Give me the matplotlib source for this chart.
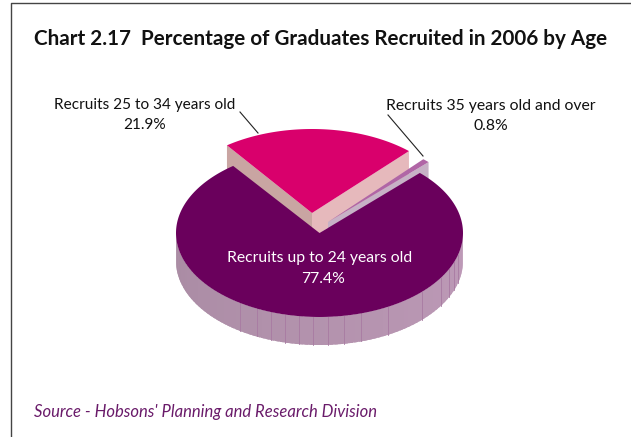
import numpy as np
import matplotlib
matplotlib.use("Agg")
import matplotlib.pyplot as plt
from matplotlib.collections import PolyCollection
from matplotlib.patches import Polygon

# Share of recruits by age band (percent)
labels = ["Recruits up to 24 years old", "Recruits 25 to 34 years old", "Recruits 35 years old and over"]
shares = [77.4, 21.9, 0.8]
title = "Chart 2.17  Percentage of Graduates Recruited in 2006 by Age"
source = "Source - Hobsons' Planning and Research Division"

FONT = "Lato"
W, H = 631, 437
RX, RY, DEPTH = 143.5, 84.0, 25.0
DEG_PER_PCT = 3.6

fig = plt.figure(figsize=(W / 100, H / 100), dpi=100, facecolor="white")
ax = fig.add_axes([0, 0, 1, 1])
ax.set_xlim(0, W)
ax.set_ylim(H, 0)
ax.axis("off")


def rim(cx, cy, a0, a1, n=200):
    t = np.radians(np.linspace(a0, a1, n))
    return np.column_stack([cx + RX * np.cos(t), cy - RY * np.sin(t)])


def wedge(cx, cy, a0, a1, color, left_wall=None, right_wall=None, z=2):
    """Flat top of a slice, with optional radial side walls hanging below it."""
    arc = rim(cx, cy, a0, a1)
    apex = np.array([cx, cy])
    drop = np.array([0, DEPTH])
    if left_wall:
        p = arc[-1]
        ax.add_patch(Polygon([apex, p, p + drop, apex + drop], fc=left_wall, lw=0, zorder=z))
    if right_wall:
        p = arc[0]
        ax.add_patch(Polygon([apex, p, p + drop, apex + drop], fc=right_wall, lw=0, zorder=z))
    ax.add_patch(Polygon(np.vstack([apex, arc]), fc=color, lw=0, zorder=z + 0.1))


# Frame around the exhibit
ax.plot([10.5, 10.5, W], [H, 2.5, 2.5], color="#444444", lw=1.0, zorder=1)

# Middle band, lifted out of the pie towards the back
mid_start = 47.5
mid_end = mid_start + shares[1] * DEG_PER_PCT
wedge(312, 213, mid_start, mid_end, "#d9006c", left_wall="#c9a5a2", right_wall="#e6b9bc", z=2)

# Oldest band, a thin sliver in front of the middle band's wall
old_start = 45.5
old_end = old_start + shares[2] * DEG_PER_PCT
wedge(328, 222, old_start, old_end, "#b066a6", right_wall="#c7b1c6", z=3)

# Main slice: rounded outer wall first, shaded along its length
main_cx, main_cy = 319.5, 233.0
main_start = 127.0
main_end = main_start + shares[0] * DEG_PER_PCT
angles = np.linspace(180, 360, 91)
quads, colors = [], []
c_left = np.array([0xa9, 0x8b, 0xa3]) / 255
c_right = np.array([0xbe, 0x9a, 0xb8]) / 255
for a0, a1 in zip(angles[:-1], angles[1:]):
    # Each facet runs a little under the next one so no light seams show through
    top = rim(main_cx, main_cy, a0, min(a1 + 1.5, 360), 6)
    bottom = top + [0, DEPTH + 3]
    quads.append(np.vstack([top, bottom[::-1]]))
    colors.append(c_left + (c_right - c_left) * (a0 - 180) / 180)
ax.add_collection(PolyCollection(quads, facecolors=colors, edgecolors="none", zorder=4))

# Facet seams on the outer wall
seams = [236.2, 244, 250.4, 256.2, 261.7, 267.4, 273.3, 279.7, 287, 298.7, 315.8, 327.7, 334.5, 339.7, 344.8]
for s in seams:
    p = rim(main_cx, main_cy, s, s, 1)[0]
    ax.plot([p[0], p[0]], [p[1], p[1] + DEPTH + 3], color="#a87aa2", lw=0.6, zorder=4.5)

wedge(main_cx, main_cy, main_start, main_end, "#6a005c", z=5)

# Leader lines
ax.plot([240, 258], [112, 133], color="#222222", lw=0.8, zorder=6)
ax.plot([388, 423], [115, 156], color="#222222", lw=0.8, zorder=6)

# Text
ax.text(34, 39, title, family=FONT, weight="bold", fontsize=14.85, color="#111111", ha="left", va="center", zorder=7)
ax.text(145, 105, labels[1], family=FONT, fontsize=11.1, color="#111111", ha="center", va="center", zorder=7)
ax.text(145, 125, f"{shares[1]}%", family=FONT, fontsize=11.1, color="#111111", ha="center", va="center", zorder=7)
ax.text(490.5, 106, labels[2], family=FONT, fontsize=11.3, color="#111111", ha="center", va="center", zorder=7)
ax.text(490.5, 126, f"{shares[2]}%", family=FONT, fontsize=11.3, color="#111111", ha="center", va="center", zorder=7)
ax.text(320, 258, labels[0], family=FONT, fontsize=11.3, color="white", ha="center", va="center", zorder=7)
ax.text(323, 279, f"{shares[0]}%", family=FONT, fontsize=11.3, color="white", ha="center", va="center", zorder=7)
ax.text(34, 412, source, family=FONT, style="italic", fontsize=12, color="#6a1b6a", ha="left", va="center", zorder=7)

fig.savefig("out.png", dpi=100)
